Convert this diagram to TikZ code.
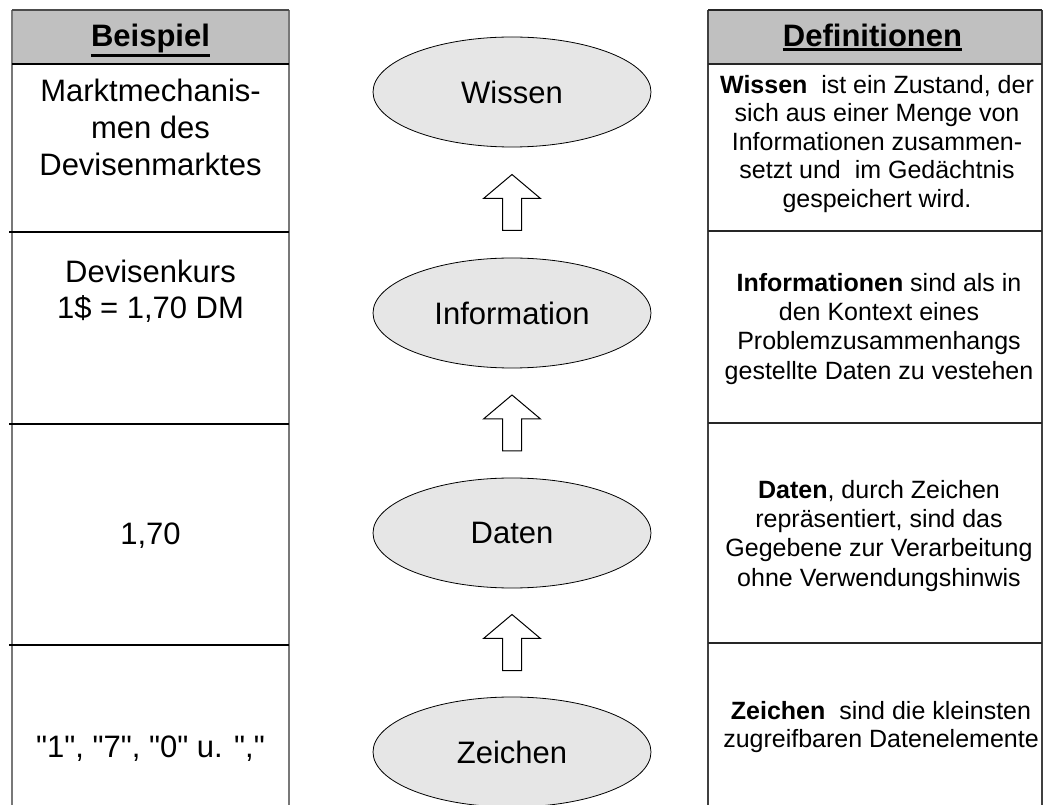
\documentclass[tikz,border=0pt]{standalone}
\usepackage{fontspec}
% plain ASCII quotes stay straight
\setmainfont{Liberation Sans}[Ligatures=TeXOff]
\usetikzlibrary{shapes.geometric,calc}
\definecolor{headgrey}{RGB}{192,192,192}
\definecolor{ovalgrey}{RGB}{230,230,230}
\definecolor{rulegrey}{RGB}{120,120,120}

\begin{document}
\begin{tikzpicture}[x=0.75pt,y=-0.75pt,
  big/.style={font=\fontsize{23.25}{27.75}\selectfont, align=center, inner sep=0pt},
  small/.style={font=\fontsize{18.75}{21.4}\selectfont, align=center, inner sep=0pt},
  headtext/.style={font=\fontsize{23.25}{27.75}\selectfont\bfseries, inner sep=0pt, anchor=base},
  level/.style={ellipse, draw=black, line width=0.6pt, fill=ovalgrey,
    minimum width=208.5pt, minimum height=82.5pt, inner sep=0pt,
    font=\fontsize{23.25}{27.75}\selectfont},
  blockarrow/.style={draw=black, line width=0.75pt, fill=white, line join=miter},
  rowline/.style={line width=1.8pt, black},
  thinrow/.style={line width=1.1pt, black!85},
  sideline/.style={line width=1.4pt, rulegrey},
  thinside/.style={line width=1.1pt, black!75},
  ul/.style={line width=2.1pt, black}
]
\useasboundingbox (0,0) rectangle (1047,805);

% header backgrounds
\fill[headgrey] (12,10) rectangle (289,64);
\fill[headgrey] (708,10) rectangle (1042,64);

% left table: "Beispiel"
\draw[sideline] (12,10) -- (12,805);
\draw[sideline] (289,10) -- (289,805);
\draw[line width=1.2pt, black!70] (12,10) -- (289,10);
\draw[rowline] (12,64) -- (289,64);
\draw[rowline] (9,232) -- (289,232);
\draw[rowline] (9,424) -- (289,424);
\draw[rowline] (9,645) -- (289,645);

% right table: "Definitionen"
\draw[thinside] (708,10) -- (708,805);
\draw[thinside] (1042,10) -- (1042,805);
\draw[thinrow] (708,10) -- (1042,10);
\draw[thinrow] (708,64) -- (1042,64);
\draw[thinrow] (708,231) -- (1042,231);
\draw[thinrow] (708,423) -- (1042,423);
\draw[thinrow] (708,643) -- (1042,643);

% headings
\node[headtext] (hb) at (150.5,47) {Beispiel};
\draw[ul] ([yshift=-1.6pt]hb.south west) -- ([yshift=-1.6pt]hb.south east);
\node[headtext] (hd) at (872.5,47) {Definitionen};
\draw[ul] ([yshift=-1.6pt]hd.south west) -- ([yshift=-1.6pt]hd.south east);

% examples
\node[big] (b1) at (150.5,127.5) {Marktmechanis-\\men des\\Devisenmarktes};
\node[big, font=\fontsize{23.25}{27}\selectfont] (b2) at (150.5,291) {Devisenkurs\\1\$ = 1,70 DM};
\node[big] (b3) at (150.5,536) {1,70};
\node[big] (b4) at (150.5,749) {"1", "7", "0" u. ","};

% levels
\node[level] (wis) at (512,92) {Wissen};
\node[level] (inf) at (512,313) {Information};
\node[level] (dat) at (512,533) {Daten};
\node[level] (zei) at (512,752) {Zeichen};

% block arrows between the levels
\foreach \lo/\hi in {inf/wis, dat/inf, zei/dat}{
  \coordinate (m) at ($(\hi.south)!0.5!(\lo.north)$);
  \draw[blockarrow] ($(m)+(0,-28)$) -- ++(28.5,24) -- ++(-19,0) -- ++(0,32)
    -- ++(-19,0) -- ++(0,-32) -- ++(-19,0) -- cycle;
}

% definitions
\node[small] (d1) at (877,144) {\textbf{Wissen}\ \ ist ein Zustand, der\\
  sich aus einer Menge von\\Informationen zusammen-\\setzt und\ \ im Gedächtnis\\gespeichert wird.};
\node[small, font=\fontsize{18.75}{21.8}\selectfont] (d2) at (879,329) {\textbf{Informationen} sind als in\\
  den Kontext eines\\Problemzusammenhangs\\gestellte Daten zu vestehen};
\node[small, font=\fontsize{18.75}{21.8}\selectfont] (d3) at (879,536) {\textbf{Daten}, durch Zeichen\\
  repräsentiert, sind das\\Gegebene zur Verarbeitung\\ohne Verwendungshinwis};
\node[small, font=\fontsize{18.75}{20.5}\selectfont] (d4) at (881,727) {\textbf{Zeichen}\ \ sind die kleinsten\\
  zugreifbaren Datenelemente};
\end{tikzpicture}
\end{document}
